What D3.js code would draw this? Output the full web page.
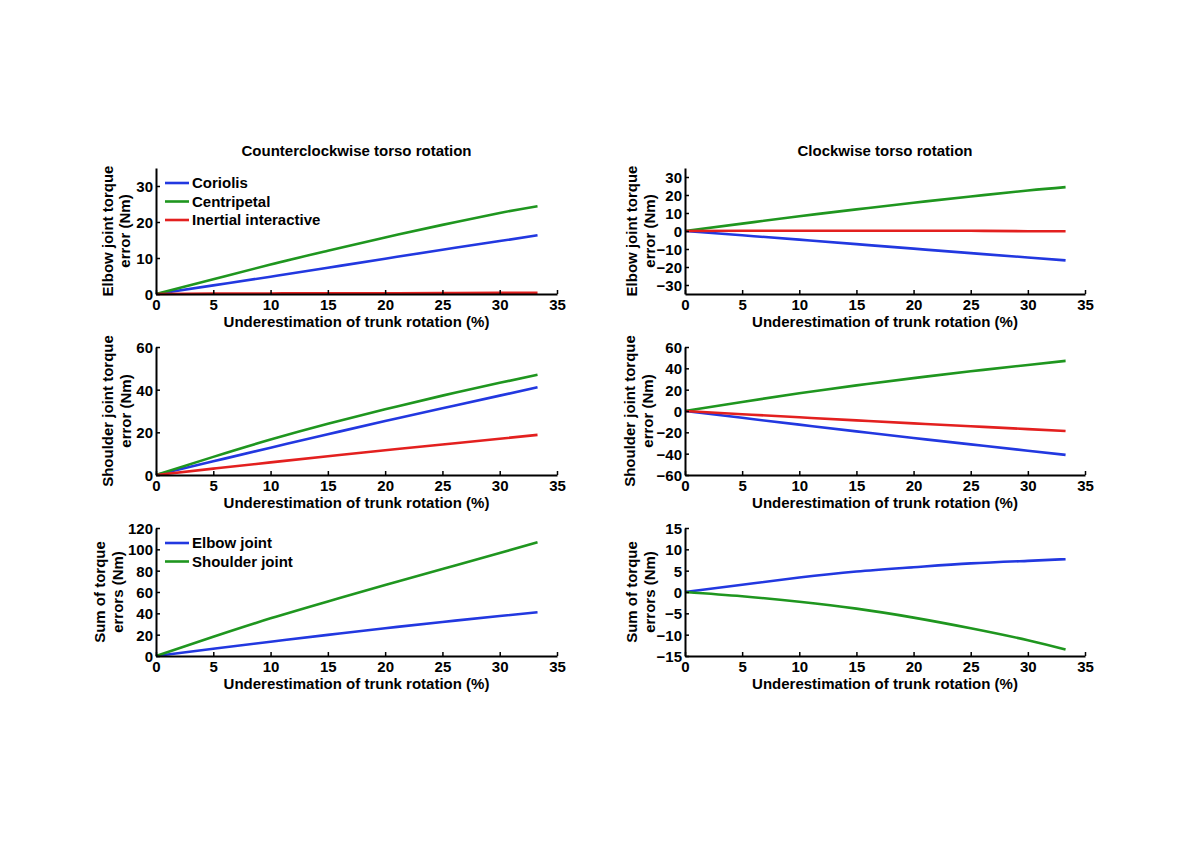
<!DOCTYPE html>
<html>
<head>
<meta charset="utf-8">
<script src="https://cdn.jsdelivr.net/npm/d3@7"></script>
<style>
  html, body { margin: 0; padding: 0; background: #fff; }
  svg text { font-family: "Liberation Sans", Arial, sans-serif; font-weight: bold; fill: #000; }
</style>
</head>
<body>
<svg id="chart" width="1200" height="848"></svg>
<script>
// ---------- data ----------
const xValues = [0, 5, 10, 15, 20, 25, 30, 33.3];
const xTicks = [0, 5, 10, 15, 20, 25, 30, 35];

// Counterclockwise — elbow joint torque error (Nm)
const ccwElbowCoriolis    = [0, 2.4, 4.8, 7.3, 9.8, 12.3, 14.7, 16.3];
const ccwElbowCentripetal = [0, 4.1, 8.2, 12.0, 15.7, 19.2, 22.5, 24.4];
const ccwElbowInertial    = [0, 0.1, 0.15, 0.2, 0.2, 0.25, 0.3, 0.3];
// Clockwise — elbow
const cwElbowCoriolis     = [0, -2.4, -4.8, -7.3, -9.8, -12.3, -14.7, -16.3];
const cwElbowCentripetal  = [0, 4.1, 8.2, 12.0, 15.7, 19.2, 22.5, 24.4];
const cwElbowInertial     = [0, 0.1, 0.15, 0.15, 0.1, 0.1, -0.1, -0.1];
// Counterclockwise — shoulder
const ccwShoulderCoriolis    = [0, 6.4, 12.8, 19.1, 25.3, 31.3, 37.2, 41.1];
const ccwShoulderCentripetal = [0, 8.5, 16.6, 24.0, 30.8, 37.2, 43.2, 47.0];
const ccwShoulderInertial    = [0, 3.0, 5.9, 8.8, 11.6, 14.3, 17.0, 18.8];
// Clockwise — shoulder
const cwShoulderCoriolis     = [0, -6.4, -12.8, -19.1, -25.3, -31.3, -37.2, -41.1];
const cwShoulderCentripetal  = [0, 8.5, 16.6, 24.0, 30.8, 37.2, 43.2, 47.0];
const cwShoulderInertial     = [0, -3.0, -5.9, -8.8, -11.6, -14.3, -17.0, -18.8];
// Sums
const ccwSumElbow    = [0, 6.8, 13.4, 19.8, 26.0, 31.9, 37.5, 41.0];
const ccwSumShoulder = [0, 18.0, 35.3, 51.2, 66.6, 81.6, 96.5, 106.6];
const cwSumElbow     = [0, 1.7, 3.4, 4.8, 5.8, 6.7, 7.3, 7.7];
const cwSumShoulder  = [0, -1.0, -2.3, -3.9, -6.0, -8.5, -11.3, -13.5];

const torqueLegend = ["Coriolis", "Centripetal", "Inertial interactive"];
const sumLegend = ["Elbow joint", "Shoulder joint"];
const colTitles = ["Counterclockwise torso rotation", "Clockwise torso rotation"];
const xLabel = "Underestimation of trunk rotation (%)";

const colors = { blue: "#2238e0", green: "#1f961f", red: "#e3201f" };

// ---------- panel config ----------
const cols = [{ x0: 156, x1: 557 }, { x0: 685, x1: 1085 }];
const rows = [{ y0: 168, y1: 294 }, { y0: 347, y1: 475 }, { y0: 528, y1: 656 }];

const panels = [
  { r: 0, c: 0, domain: [0, 35], ticks: [0, 10, 20, 30], ylab: ["Elbow joint torque", "error (Nm)"], yoff: [48, 31],
    series: [[ccwElbowCoriolis, colors.blue], [ccwElbowCentripetal, colors.green], [ccwElbowInertial, colors.red]], legend: torqueLegend },
  { r: 0, c: 1, domain: [-35, 35], ticks: [-30, -20, -10, 0, 10, 20, 30], ylab: ["Elbow joint torque", "error (Nm)"], yoff: [53, 35],
    series: [[cwElbowCentripetal, colors.green], [cwElbowCoriolis, colors.blue], [cwElbowInertial, colors.red]] },
  { r: 1, c: 0, domain: [0, 60], ticks: [0, 20, 40, 60], ylab: ["Shoulder joint torque", "error (Nm)"], yoff: [48, 30],
    series: [[ccwShoulderCoriolis, colors.blue], [ccwShoulderCentripetal, colors.green], [ccwShoulderInertial, colors.red]] },
  { r: 1, c: 1, domain: [-60, 60], ticks: [-60, -40, -20, 0, 20, 40, 60], ylab: ["Shoulder joint torque", "error (Nm)"], yoff: [55, 37],
    series: [[cwShoulderCoriolis, colors.blue], [cwShoulderCentripetal, colors.green], [cwShoulderInertial, colors.red]] },
  { r: 2, c: 0, domain: [0, 120], ticks: [0, 20, 40, 60, 80, 100, 120], ylab: ["Sum of torque", "errors (Nm)"], yoff: [56, 38],
    series: [[ccwSumElbow, colors.blue], [ccwSumShoulder, colors.green]], legend: sumLegend },
  { r: 2, c: 1, domain: [-15, 15], ticks: [-15, -10, -5, 0, 5, 10, 15], ylab: ["Sum of torque", "errors (Nm)"], yoff: [53, 35],
    series: [[cwSumElbow, colors.blue], [cwSumShoulder, colors.green]] }
];

const svg = d3.select("#chart");
const FS = 15;

panels.forEach(p => {
  const col = cols[p.c], row = rows[p.r];
  const x = d3.scaleLinear().domain([0, 35]).range([col.x0, col.x1]);
  const y = d3.scaleLinear().domain(p.domain).range([row.y1, row.y0]);
  const g = svg.append("g");

  // series
  const line = d3.line().x((d, i) => x(xValues[i])).y(d => y(d)).curve(d3.curveNatural);
  p.series.forEach(([vals, color]) => {
    g.append("path").datum(vals).attr("d", line)
      .attr("fill", "none").attr("stroke", color).attr("stroke-width", 2.6);
  });

  // x axis (ticks inward)
  const xa = g.append("g").attr("transform", `translate(0,${row.y1})`)
    .call(d3.axisBottom(x).tickValues(xTicks).tickSizeInner(-4).tickSizeOuter(0).tickPadding(9));
  // y axis (ticks inward)
  const ya = g.append("g").attr("transform", `translate(${col.x0},0)`)
    .call(d3.axisLeft(y).tickValues(p.ticks).tickSizeInner(-4).tickSizeOuter(0).tickPadding(3));
  [xa, ya].forEach(a => {
    a.select(".domain").attr("stroke", "#000").attr("stroke-width", 2);
    a.selectAll(".tick line").attr("stroke", "#000").attr("stroke-width", 1.5);
    a.selectAll(".tick text").style("font-size", FS + "px").style("font-family", "'Liberation Sans', Arial, sans-serif").style("font-weight", "bold").attr("fill", "#000");
  });
  ya.selectAll(".tick text").attr("dy", "0.36em");
  xa.selectAll(".tick text").attr("dy", "0.71em").attr("y", 5);

  // x label
  g.append("text").attr("x", (col.x0 + col.x1) / 2).attr("y", row.y1 + 33)
    .attr("text-anchor", "middle").style("font-size", FS + "px").text(xLabel);

  // y label (two lines)
  const cy = (row.y0 + row.y1) / 2;
  p.ylab.forEach((t, i) => {
    g.append("text")
      .attr("transform", `translate(${col.x0 - p.yoff[i]},${cy}) rotate(-90)`)
      .attr("text-anchor", "middle").attr("dy", "0.36em")
      .style("font-size", FS + "px").text(t);
  });

  // legend
  if (p.legend) {
    p.legend.forEach((name, i) => {
      const ly = row.y0 + 15 + i * 18.5;
      g.append("line").attr("x1", col.x0 + 9).attr("x2", col.x0 + 33).attr("y1", ly).attr("y2", ly)
        .attr("stroke", p.series[i][1]).attr("stroke-width", 2.6);
      g.append("text").attr("x", col.x0 + 36).attr("y", ly).attr("dy", "0.36em")
        .style("font-size", FS + "px").text(name);
    });
  }

  if (p.r === 0) {
    svg.append("text").attr("x", (col.x0 + col.x1) / 2).attr("y", 151).attr("dy", "0.36em")
      .attr("text-anchor", "middle").style("font-size", FS + "px").text(colTitles[p.c]);
  }
});
</script>
</body>
</html>
